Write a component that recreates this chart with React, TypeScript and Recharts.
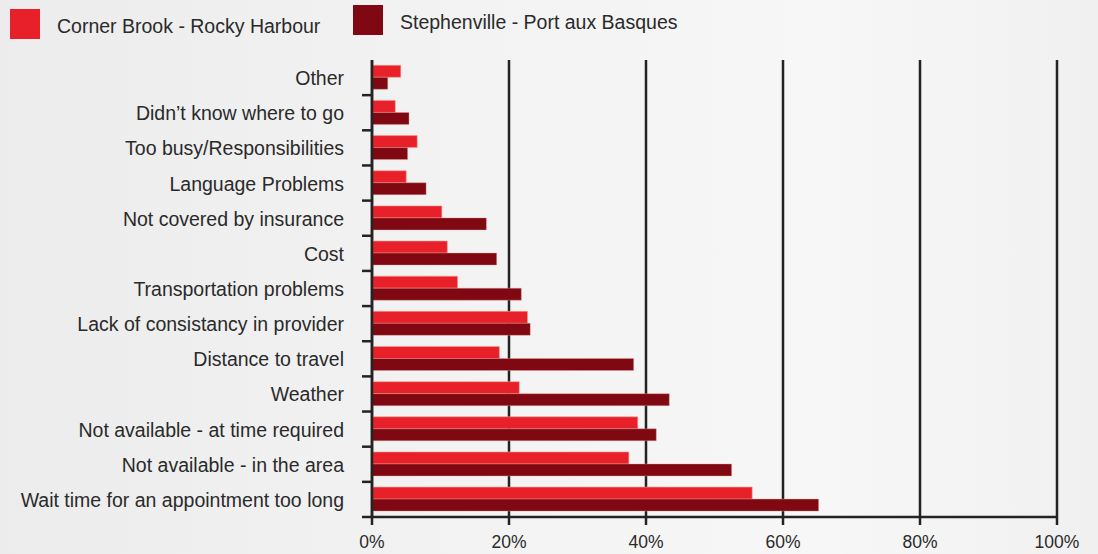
import { BarChart, Bar, XAxis, YAxis, CartesianGrid } from 'recharts';

// Reasons for not accessing care, by region (% of respondents)
const categories = [
  'Other',
  'Didn’t know where to go',
  'Too busy/Responsibilities',
  'Language Problems',
  'Not covered by insurance',
  'Cost',
  'Transportation problems',
  'Lack of consistancy in provider',
  'Distance to travel',
  'Weather',
  'Not available - at time required',
  'Not available - in the area',
  'Wait time for an appointment too long',
];
const cornerBrook = [4.2, 3.4, 6.6, 5.0, 10.2, 11.0, 12.5, 22.7, 18.6, 21.5, 38.8, 37.5, 55.5];
const stephenville = [2.3, 5.4, 5.2, 7.9, 16.7, 18.2, 21.8, 23.1, 38.2, 43.4, 41.5, 52.5, 65.2];
const seriesNames = ['Corner Brook - Rocky Harbour', 'Stephenville - Port aux Basques'];
const xTicks = [0, 20, 40, 60, 80, 100];

const W = 1098;
const H = 554;
const MARGIN = { top: 60, right: 41, bottom: 7, left: 0 };
const X_AXIS_H = 30;
const HALF_BAND = (H - MARGIN.top - MARGIN.bottom - X_AXIS_H) / categories.length / 2;

const RED = '#e8202a';
const DARK = '#7f0812';
const INK = '#232323';
const TEXT = '#2a2a2a';
const FONT = '"Liberation Sans", Arial, Helvetica, sans-serif';

const data = categories.map((name, i) => ({
  name,
  cb: cornerBrook[i],
  sv: stephenville[i],
}));

function CategoryTick(props: any) {
  const { x, y, payload } = props;
  return (
    <g>
      <text x={x - 2} y={y} dy={7.5} textAnchor="end" fill={TEXT} fontSize={19.5} fontFamily={FONT}>
        {payload.value}
      </text>
      <line x1={x + 16} x2={x + 27} y1={y + HALF_BAND} y2={y + HALF_BAND} stroke={INK} strokeWidth={2.5} />
    </g>
  );
}

export default function App() {
  return (
    <div
      style={{
        position: 'absolute',
        left: 0,
        top: 0,
        width: W,
        height: H,
        background: 'linear-gradient(90deg, #ececec 0%, #f3f3f3 45%, #f7f7f7 75%, #f0f0f0 100%)',
        fontFamily: FONT,
        overflow: 'hidden',
      }}
    >
      <div style={{ position: 'absolute', left: 10, top: 9, width: 30, height: 30, background: RED }} />
      <div style={{ position: 'absolute', left: 57, top: 15, fontSize: 19.5, color: TEXT, lineHeight: '22px' }}>
        {seriesNames[0]}
      </div>
      <div style={{ position: 'absolute', left: 353, top: 5, width: 30, height: 30, background: DARK }} />
      <div style={{ position: 'absolute', left: 400, top: 11, fontSize: 19.5, color: TEXT, lineHeight: '22px' }}>
        {seriesNames[1]}
      </div>
      <BarChart
        width={W}
        height={H}
        data={data}
        layout="vertical"
        margin={MARGIN}
        barCategoryGap="15%"
        barGap={0}
        style={{ position: 'absolute', left: 0, top: 0 }}
      >
        <CartesianGrid horizontal={false} stroke={INK} strokeWidth={2.5} strokeDasharray="" />
        <XAxis
          type="number"
          domain={[0, 100]}
          ticks={xTicks}
          height={X_AXIS_H}
          tickFormatter={(v: number) => `${v}%`}
          axisLine={{ stroke: INK, strokeWidth: 2.5 }}
          tickLine={{ stroke: INK, strokeWidth: 2.5 }}
          tickSize={8}
          tickMargin={11}
          tick={{ fill: TEXT, fontSize: 17.5, fontFamily: FONT }}
          interval={0}
        />
        <YAxis
          type="category"
          dataKey="name"
          width={372}
          axisLine={{ stroke: INK, strokeWidth: 2.5 }}
          tickLine={false}
          tickSize={10}
          tickMargin={16}
          tick={<CategoryTick />}
          interval={0}
        />
        <Bar dataKey="cb" name={seriesNames[0]} fill={RED} stroke="#f2a08f" strokeWidth={0.6} isAnimationActive={false} />
        <Bar dataKey="sv" name={seriesNames[1]} fill={DARK} stroke="#e8a090" strokeWidth={0.4} isAnimationActive={false} />
      </BarChart>
    </div>
  );
}
